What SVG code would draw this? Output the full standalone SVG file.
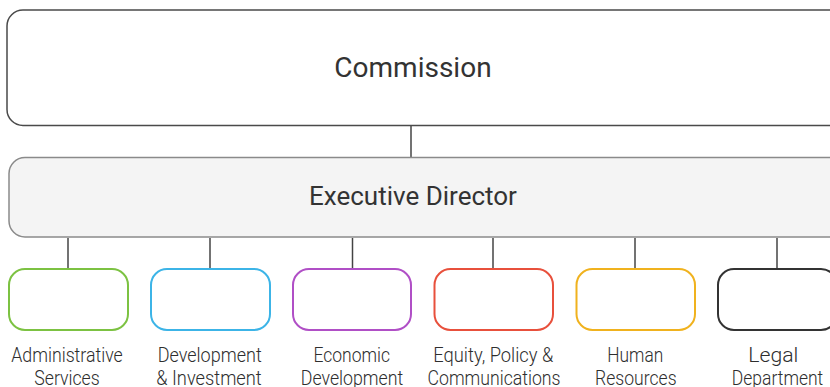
<svg xmlns="http://www.w3.org/2000/svg" width="830" height="387" viewBox="0 0 830 387">
<style>
.top{fill:#ffffff;stroke:#4a4a4a;stroke-width:1.5}
.exec{fill:#f4f4f4;stroke:#8a8a8a;stroke-width:1.5}
.dept{fill:#ffffff;stroke-width:2}
.conn{stroke:#444444;stroke-width:1.5;fill:none}
.big{font-family:Roboto,"Liberation Sans",sans-serif;fill:#333333;text-anchor:middle}
.lbl{font-family:Roboto,"Liberation Sans",sans-serif;font-size:21px;font-weight:300;fill:#2e2e2e;text-anchor:middle}
</style>
<rect width="830" height="387" fill="#ffffff"/>
<g id="connectors">
<line class="conn" x1="411" y1="126" x2="411" y2="158"/>
<line class="conn" x1="68" y1="238" x2="68" y2="269"/>
<line class="conn" x1="210" y1="238" x2="210" y2="269"/>
<line class="conn" x1="352.5" y1="238" x2="352.5" y2="269"/>
<line class="conn" x1="493" y1="238" x2="493" y2="269"/>
<line class="conn" x1="635" y1="238" x2="635" y2="269"/>
<line class="conn" x1="777" y1="238" x2="777" y2="269"/>
</g>
<g id="commission">
<rect class="top" x="7" y="10" width="838" height="115.5" rx="16"/>
<text class="big" x="413" y="77" font-size="28">Commission</text>
</g>
<g id="executive-director">
<rect class="exec" x="9" y="157.5" width="836" height="79.5" rx="16"/>
<text class="big" x="413" y="205" font-size="26">Executive Director</text>
</g>
<g id="administrative-services">
<rect class="dept" x="9" y="269" width="119" height="61" rx="16" stroke="#7cc242"/>
<text class="lbl" x="67" y="362" textLength="111.5" lengthAdjust="spacingAndGlyphs">Administrative</text>
<text class="lbl" x="67" y="384.5" textLength="65.5" lengthAdjust="spacingAndGlyphs">Services</text>
</g>
<g id="development-investment">
<rect class="dept" x="151" y="269" width="119" height="61" rx="16" stroke="#3cb4e7"/>
<text class="lbl" x="209.7" y="362" textLength="104" lengthAdjust="spacingAndGlyphs">Development</text>
<text class="lbl" x="209" y="384.5" textLength="105.5" lengthAdjust="spacingAndGlyphs">&amp; Investment</text>
</g>
<g id="economic-development">
<rect class="dept" x="293" y="269" width="118" height="61" rx="16" stroke="#b04fc6"/>
<text class="lbl" x="351.7" y="362" textLength="76.5" lengthAdjust="spacingAndGlyphs">Economic</text>
<text class="lbl" x="352" y="384.5" textLength="102.5" lengthAdjust="spacingAndGlyphs">Development</text>
</g>
<g id="equity-policy-communications">
<rect class="dept" x="434.5" y="269" width="118.5" height="61" rx="16" stroke="#e8503c"/>
<text class="lbl" x="493.3" y="362" textLength="120" lengthAdjust="spacingAndGlyphs">Equity, Policy &amp;</text>
<text class="lbl" x="494" y="384.5" textLength="133" lengthAdjust="spacingAndGlyphs">Communications</text>
</g>
<g id="human-resources">
<rect class="dept" x="576.5" y="269" width="118.5" height="61" rx="16" stroke="#f0b21e"/>
<text class="lbl" x="635.3" y="362" textLength="56" lengthAdjust="spacingAndGlyphs">Human</text>
<text class="lbl" x="635.8" y="384.5" textLength="81.5" lengthAdjust="spacingAndGlyphs">Resources</text>
</g>
<g id="legal-department">
<rect class="dept" x="718" y="269" width="119" height="61" rx="16" stroke="#333333"/>
<text class="lbl" x="773.3" y="362" textLength="50" lengthAdjust="spacingAndGlyphs">Legal</text>
<text class="lbl" x="777.5" y="384.5" textLength="91.5" lengthAdjust="spacingAndGlyphs">Department</text>
</g>
</svg>
